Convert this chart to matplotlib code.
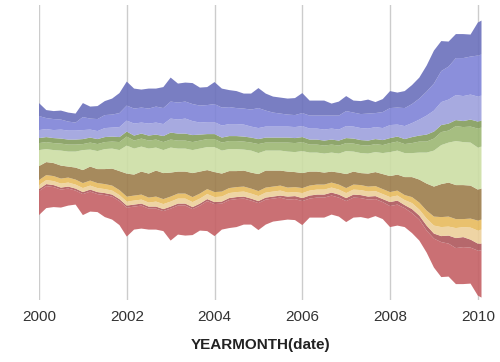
import numpy as np
import matplotlib
matplotlib.use("Agg")
import matplotlib.pyplot as plt
from matplotlib.colors import to_rgb

# months since Jan 2000, sampled every 2 months (+ Feb 2010)
months = list(range(0, 121, 2)) + [121]

# layer thickness, top layer first
slate = [13, 8, 8, 9, 9, 9, 14, 12, 13, 14,
         16, 20, 24, 20, 18, 20, 18, 21, 24, 19,
         19, 21, 18, 18, 22, 19, 17, 17, 15, 16,
         20, 17, 16, 16, 16, 17, 20, 15, 15, 15,
         12, 14, 15, 12, 13, 14, 11, 13, 17, 15,
         17, 19, 21, 26, 33, 30, 25, 24, 24, 22,
         33, 34]
blue = [14, 11, 11, 10, 9, 8, 13, 11, 12, 13,
        13, 14, 15, 15, 15, 15, 16, 16, 17, 17,
        17, 17, 17, 17, 18, 18, 17, 16, 16, 17,
        20, 16, 14, 13, 12, 12, 13, 13, 13, 14,
        13, 14, 15, 14, 14, 15, 14, 16, 17, 17,
        18, 19, 21, 24, 27, 31, 33, 37, 38, 38,
        41, 41]
lavender = [8, 8, 8, 9, 9, 9, 9, 8, 8, 9,
            9, 10, 11, 12, 11, 12, 12, 12, 14, 14,
            15, 14, 12, 12, 12, 12, 12, 12, 12, 11,
            11, 11, 11, 11, 11, 11, 11, 11, 11, 11,
            11, 11, 12, 12, 12, 12, 12, 12, 13, 12,
            13, 14, 16, 19, 21, 23, 24, 25, 25, 25,
            25, 25]
dark_green = [5, 5, 5, 5, 5, 5, 5, 5, 5, 5,
              5, 5, 5, 5, 5, 5, 5, 6, 7, 7,
              7, 7, 6, 5, 5, 5, 5, 5, 5, 5,
              5, 5, 5, 5, 5, 5, 5, 5, 5, 5,
              5, 5, 5, 5, 5, 5, 5, 5, 5, 5,
              5, 6, 6, 7, 7, 7, 7, 6, 6, 7,
              7, 7]
green = [7, 7, 7, 7, 7, 7, 6, 7, 7, 7,
         7, 8, 9, 8, 8, 8, 8, 8, 8, 8,
         8, 8, 8, 8, 8, 8, 8, 8, 8, 8,
         9, 8, 8, 8, 9, 9, 9, 8, 8, 8,
         8, 8, 8, 8, 8, 8, 8, 8, 9, 9,
         9, 10, 11, 11, 12, 13, 12, 15, 15, 16,
         19, 19]
pale_green = [16, 13, 13, 15, 15, 16, 20, 17, 18, 20,
              20, 21, 28, 26, 25, 25, 23, 23, 25, 23,
              23, 23, 23, 23, 25, 23, 22, 22, 21, 22,
              21, 20, 20, 20, 20, 20, 22, 19, 19, 19,
              19, 19, 23, 20, 20, 20, 20, 21, 24, 24,
              24, 24, 27, 31, 36, 39, 40, 44, 43, 43,
              42, 42]
brown = [14, 13, 13, 13, 11, 12, 13, 14, 14, 15,
         17, 19, 23, 21, 23, 24, 26, 26, 24, 22,
         22, 24, 22, 19, 20, 18, 17, 16, 16, 16,
         17, 17, 16, 15, 16, 15, 15, 14, 13, 12,
         11, 12, 14, 13, 12, 13, 14, 15, 16, 16,
         18, 20, 23, 27, 30, 33, 34, 34, 34, 33,
         31, 31]
gold = [5] * 51 + [6, 7, 8, 9, 10, 10, 9, 8, 9, 10, 10]
tan = [4] * 16 + [5] * 18 + [4, 4] + [5] * 15 + [6, 6, 7, 8, 9, 9, 10, 10, 12, 13, 14]
dark_red = [2] * 34 + [3] * 14 + [4, 4, 3, 4, 4, 5, 5, 6, 8, 10, 10, 8, 7, 7]
red = [24, 22, 20, 18, 17, 14, 21, 20, 18, 22,
       23, 24, 29, 23, 23, 21, 21, 20, 32, 29,
       30, 26, 25, 30, 32, 26, 28, 28, 26, 24,
       27, 25, 23, 23, 20, 21, 24, 19, 20, 20,
       19, 19, 21, 20, 19, 19, 17, 17, 21, 21,
       19, 20, 21, 22, 29, 35, 33, 36, 37, 36,
       45, 47]

layers = [slate, blue, lavender, dark_green, green, pale_green,
          brown, gold, tan, dark_red, red]
# colours as they appear on white
colors = ["#7a7ec3", "#8b8fdb", "#a8aae0", "#8fa76c", "#a6be81", "#d1e1ad",
          "#a78a5d", "#e9c26d", "#efd5a4", "#b6686c", "#cb7174"]

# streams are slightly see-through, so pre-compensate for the alpha
alpha = 0.9
fill = [tuple(np.clip((np.array(to_rgb(c)) - (1 - alpha)) / alpha, 0, 1)) for c in colors]

x = 2000 + np.array(months) / 12.0

fig = plt.figure(figsize=(5, 3.62), dpi=100)
ax = fig.add_axes([0.078, 0.171, 0.885, 0.815])

for yr in range(2000, 2011, 2):
    ax.axvline(yr, color="#cccccc", lw=1, zorder=0)

ax.stackplot(x, layers[::-1], colors=fill[::-1], baseline="sym",
             linewidth=0, alpha=alpha, zorder=2)

ax.set_xlim(2000, 2000 + 121 / 12)
ax.set_ylim(-141, 154)
ax.set_xticks(range(2000, 2011, 2))
ax.set_xticklabels([str(y) for y in range(2000, 2011, 2)],
                   fontsize=11, color="#333333", family="Liberation Sans")
ax.set_yticks([])
ax.tick_params(axis="x", length=0, pad=7)
for s in ax.spines.values():
    s.set_visible(False)

ax.set_xlabel("YEARMONTH(date)", fontsize=11, fontweight="bold",
              color="#222222", family="Liberation Sans", labelpad=10)

fig.savefig("out.png", dpi=100)
